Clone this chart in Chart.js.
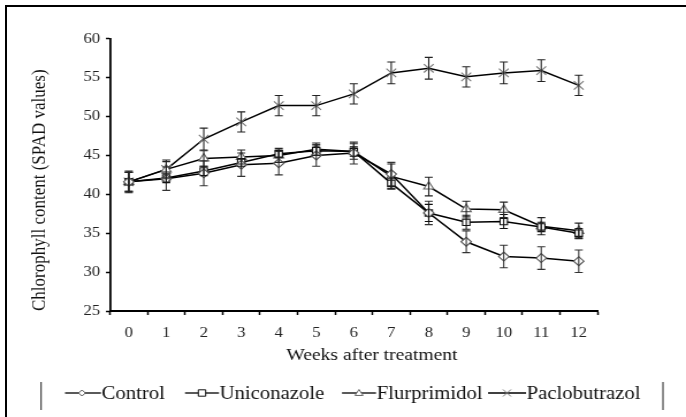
<!DOCTYPE html>
<html>
<head>
<meta charset="utf-8">
<script src="https://cdn.jsdelivr.net/npm/chart.js@4/dist/chart.umd.min.js"></script>
<style>
  html, body { margin: 0; padding: 0; background: #fff; overflow: hidden; }
  #wrap { position: absolute; left: 0; top: 0; width: 596px; height: 417px;
          transform: scaleX(1.151); transform-origin: 0 0; }
  #frame { position: absolute; left: 5px; top: 5px; width: 720px; height: 430px;
           border-left: 2px solid #000; border-top: 2px solid #000; }
</style>
</head>
<body>
<div id="wrap"><canvas id="chart" width="596" height="417"></canvas></div>
<div id="frame"></div>
<script>
// weeks after treatment
const weeks = ['0', '1', '2', '3', '4', '5', '6', '7', '8', '9', '10', '11', '12'];

// SPAD means
const control       = [41.6, 42.0, 42.7, 43.8, 44.0, 45.0, 45.3, 42.6, 37.6, 33.9, 32.0, 31.8, 31.4];
const uniconazole   = [41.6, 42.1, 43.0, 44.1, 45.2, 45.6, 45.5, 41.4, 37.6, 36.4, 36.5, 35.8, 35.0];
const flurprimidol  = [41.6, 43.2, 44.6, 44.8, 45.0, 45.8, 45.5, 42.3, 41.0, 38.1, 38.0, 35.9, 35.3];
const paclobutrazol = [41.6, 43.2, 47.1, 49.3, 51.4, 51.4, 52.9, 55.6, 56.2, 55.1, 55.6, 55.9, 54.0];

// +/- error bar sizes
const controlErr       = [1.3, 1.5, 1.6, 1.5, 1.5, 1.4, 1.4, 1.5, 1.5, 1.4, 1.45, 1.45, 1.45];
const uniconazoleErr   = [1.2, 0.6, 0.6, 0.5, 0.5, 0.6, 0.6, 0.7, 1.1, 0.9, 0.9, 0.6, 0.6];
const flurprimidolErr  = [1.2, 1.0, 1.0, 0.9, 0.9, 0.8, 1.0, 1.6, 1.2, 1.0, 1.0, 1.1, 1.0];
const paclobutrazolErr = [1.4, 1.2, 1.4, 1.3, 1.3, 1.3, 1.3, 1.4, 1.4, 1.3, 1.4, 1.4, 1.3];

const yTicks = [25, 30, 35, 40, 45, 50, 55, 60];

const S = 686 / 596; // horizontal stretch of the picture
const serif = '"Liberation Serif", "Times New Roman", serif';
Chart.defaults.font.family = serif;

// little markers used by the legend
function marker(ctx, style, x, y, r, color) {
    ctx.save();
    ctx.strokeStyle = color;
    ctx.fillStyle = '#fff';
    ctx.lineWidth = 1;
    ctx.beginPath();
    if (style === 'rectRot') {
        ctx.moveTo(x, y - r); ctx.lineTo(x + r, y); ctx.lineTo(x, y + r); ctx.lineTo(x - r, y); ctx.closePath();
        ctx.fill(); ctx.stroke();
    } else if (style === 'rect') {
        ctx.rect(x - r, y - r, 2 * r, 2 * r); ctx.fill(); ctx.stroke();
    } else if (style === 'triangle') {
        ctx.moveTo(x, y - r); ctx.lineTo(x + r, y + r * 0.7); ctx.lineTo(x - r, y + r * 0.7); ctx.closePath();
        ctx.fill(); ctx.stroke();
    } else {
        ctx.moveTo(x - r, y - r); ctx.lineTo(x + r, y + r);
        ctx.moveTo(x + r, y - r); ctx.lineTo(x - r, y + r);
        ctx.stroke();
    }
    ctx.restore();
}

const errorBars = {
    id: 'errorBars',
    afterDatasetsDraw(chart) {
        const ctx = chart.ctx;
        const y = chart.scales.y;
        chart.data.datasets.forEach((ds, i) => {
            const meta = chart.getDatasetMeta(i);
            ctx.save();
            ctx.strokeStyle = ds.errColor;
            ctx.lineWidth = 1.1;
            meta.data.forEach((pt, j) => {
                const v = ds.data[j], e = ds.err[j];
                const t = y.getPixelForValue(v + e), b = y.getPixelForValue(v - e);
                ctx.beginPath();
                ctx.moveTo(pt.x, t); ctx.lineTo(pt.x, b);
                ctx.moveTo(pt.x - 3.5, t); ctx.lineTo(pt.x + 3.5, t);
                ctx.moveTo(pt.x - 3.5, b); ctx.lineTo(pt.x + 3.5, b);
                ctx.stroke();
            });
            ctx.restore();
        });
    }
};

const extras = {
    id: 'extras',
    afterDraw(chart) {
        const ctx = chart.ctx;
        ctx.save();
        // x axis title
        ctx.fillStyle = '#111';
        ctx.font = '17px ' + serif;
        ctx.textAlign = 'center';
        ctx.textBaseline = 'middle';
        ctx.fillText('Weeks after treatment', 372 / S, 356);

        // legend side bars
        ctx.strokeStyle = '#444';
        ctx.lineWidth = 1.2;
        ctx.beginPath();
        ctx.moveTo(41 / S, 382); ctx.lineTo(41 / S, 410);
        ctx.moveTo(663 / S, 382); ctx.lineTo(663 / S, 410);
        ctx.stroke();

        // legend entries: line start, line end, marker x (page px)
        const spots = [[65, 101, 82], [185, 219, 202], [342, 376, 359], [488, 526, 507]];
        ctx.font = '18px ' + serif;
        ctx.textAlign = 'left';
        chart.data.datasets.forEach((ds, i) => {
            const [a, b, m] = spots[i];
            const ly = 393;
            ctx.strokeStyle = '#000';
            ctx.lineWidth = 1.3;
            ctx.beginPath();
            ctx.moveTo(a / S, ly); ctx.lineTo(b / S, ly);
            ctx.stroke();
            marker(ctx, ds.pointStyle, m / S, ly, ds.legendR, ds.pointBorderColor);
            ctx.fillStyle = '#111';
            ctx.fillText(ds.label, b / S + 0.5, ly + 1);
        });
        ctx.restore();
    }
};

function series(label, data, err, style, radius, legendR, color, errColor) {
    return {
        label: label,
        data: data,
        err: err,
        errColor: errColor,
        legendR: legendR,
        borderColor: '#000',
        borderWidth: 1.5,
        pointStyle: style,
        pointRadius: radius,
        pointBorderColor: color,
        pointBackgroundColor: '#fff',
        pointBorderWidth: 1.1,
        tension: 0,
        fill: false
    };
}

new Chart(document.getElementById('chart').getContext('2d'), {
    type: 'line',
    data: {
        labels: weeks,
        datasets: [
            series('Control', control, controlErr, 'rectRot', 4.5, 3, '#555', '#333'),
            series('Uniconazole', uniconazole, uniconazoleErr, 'rect', 4.5, 3.2, '#111', '#111'),
            series('Flurprimidol', flurprimidol, flurprimidolErr, 'triangle', 5, 3.5, '#666', '#222'),
            series('Paclobutrazol', paclobutrazol, paclobutrazolErr, 'crossRot', 6, 3.5, '#777', '#222')
        ]
    },
    options: {
        responsive: false,
        animation: false,
        devicePixelRatio: 1,
        layout: { padding: { left: 0, right: 596 - 597.5 / S, top: 38.7, bottom: 0 } },
        plugins: {
            legend: { display: false },
            tooltip: { enabled: false }
        },
        scales: {
            x: {
                offset: true,
                grid: {
                    offset: true,
                    drawOnChartArea: false,
                    drawTicks: true,
                    tickLength: 4,
                    tickWidth: 1.5,
                    tickColor: '#000'
                },
                border: { display: true, color: '#000', width: 2 },
                ticks: {
                    color: '#222',
                    padding: 9,
                    maxRotation: 0,
                    font: { size: 14.5 }
                },
                afterFit(scale) { scale.height = 106; }
            },
            y: {
                min: 25,
                max: 60,
                afterBuildTicks(scale) { scale.ticks = yTicks.map(v => ({ value: v })); },
                grid: {
                    drawOnChartArea: false,
                    drawTicks: true,
                    tickLength: 3.5,
                    tickWidth: 1.5,
                    tickColor: '#000'
                },
                border: { display: true, color: '#000', width: 1.8 },
                ticks: {
                    color: '#222',
                    padding: 5,
                    font: { size: 14.5 }
                },
                title: {
                    display: true,
                    text: 'Chlorophyll content (SPAD values)',
                    align: 'start',
                    color: '#111',
                    font: { size: 17 },
                    padding: { top: 24.5, bottom: 0 }
                },
                afterFit(scale) { scale.width = 110 / S; }
            }
        }
    },
    plugins: [errorBars, extras]
});
</script>
</body>
</html>
